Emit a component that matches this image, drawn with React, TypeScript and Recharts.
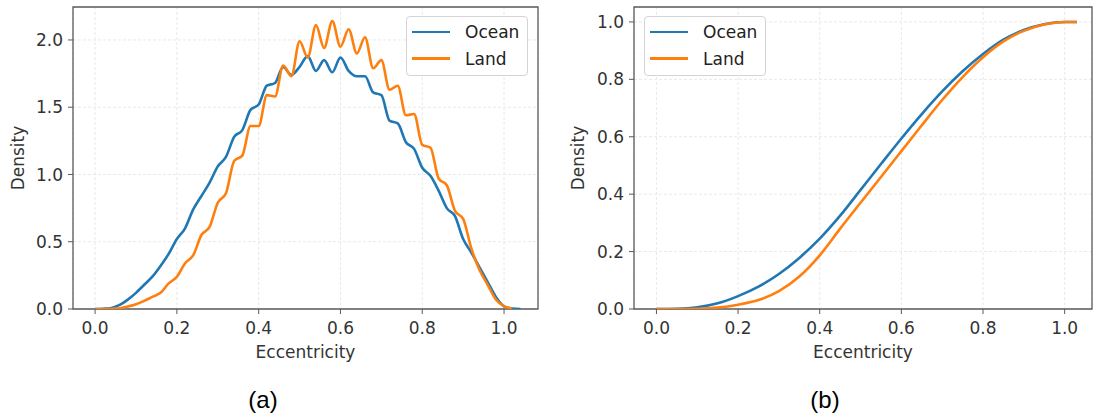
import { LineChart, Line, XAxis, YAxis, CartesianGrid, Legend, ReferenceArea } from "recharts";

// kernel density estimate, sampled every 0.02
const densityX = [
    0, 0.02, 0.04, 0.06, 0.08, 0.1, 0.12, 0.14, 0.16, 0.18, 0.2, 0.22, 0.24, 0.26, 0.28, 0.3, 0.32, 0.34,
    0.36, 0.38, 0.4, 0.42, 0.44, 0.46, 0.48, 0.5, 0.52, 0.54, 0.56, 0.58, 0.6, 0.62, 0.64, 0.66, 0.68, 0.7,
    0.72, 0.74, 0.76, 0.78, 0.8, 0.82, 0.84, 0.86, 0.88, 0.9, 0.92, 0.94, 0.96, 0.98, 1.0, 1.02, 1.04,
];
const oceanDensity = [
    0, 0.002, 0.008, 0.03, 0.07, 0.12, 0.18, 0.24, 0.32, 0.41, 0.52, 0.6, 0.74, 0.84, 0.94, 1.06, 1.13, 1.28,
    1.33, 1.48, 1.52, 1.66, 1.68, 1.8, 1.74, 1.8, 1.88, 1.77, 1.85, 1.76, 1.87, 1.77, 1.73, 1.73, 1.61, 1.59,
    1.4, 1.38, 1.24, 1.19, 1.05, 0.99, 0.88, 0.75, 0.69, 0.52, 0.42, 0.31, 0.2, 0.09, 0.02, 0.003, 0,
];
const landDensity = [
    0, 0, 0.002, 0.006, 0.018, 0.035, 0.06, 0.09, 0.12, 0.19, 0.24, 0.34, 0.4, 0.55, 0.61, 0.79, 0.86, 1.1,
    1.14, 1.36, 1.36, 1.59, 1.58, 1.81, 1.73, 1.99, 1.87, 2.11, 1.94, 2.14, 1.95, 2.08, 1.9, 2.02, 1.79, 1.85,
    1.63, 1.66, 1.44, 1.45, 1.22, 1.2, 0.97, 0.92, 0.73, 0.67, 0.45, 0.29, 0.18, 0.07, 0.02, 0.004, null,
];

// cumulative
const cdfX = [0, 0.05, 0.1, 0.15, 0.2, 0.25, 0.3, 0.35, 0.4, 0.45, 0.5, 0.55, 0.6, 0.65, 0.7, 0.75, 0.8, 0.85, 0.9, 0.95, 1.0, 1.03];
const oceanCdf = [0, 0.001, 0.006, 0.02, 0.045, 0.078, 0.122, 0.178, 0.245, 0.325, 0.415, 0.505, 0.594, 0.679, 0.758, 0.828, 0.888, 0.938, 0.972, 0.992, 1.0, 1.0];
const landCdf = [0, 0, 0.001, 0.005, 0.015, 0.031, 0.062, 0.113, 0.187, 0.28, 0.37, 0.46, 0.55, 0.64, 0.728, 0.808, 0.877, 0.932, 0.969, 0.991, 1.0, 1.0];

const eccTicks = [0, 0.2, 0.4, 0.6, 0.8, 1.0];
const densityTicks = [0, 0.5, 1.0, 1.5, 2.0];
const cdfTicks = [0, 0.2, 0.4, 0.6, 0.8, 1.0];
const seriesNames = ["Ocean", "Land"];

const OCEAN = "#1f77b4";
const LAND = "#ff7f0e";
const FONT = "'DejaVu Sans', sans-serif";
const TEXT = "#333";
const SPINE = "#5a5a5a";

const densityData = densityX.map((x, i) => ({ x, ocean: oceanDensity[i], land: landDensity[i] }));
const cdfData = cdfX.map((x, i) => ({ x, ocean: oceanCdf[i], land: landCdf[i] }));

function LegendBox({ payload }: { payload?: any[] }) {
    const items = [...(payload || [])].sort((a, b) => seriesNames.indexOf(a.value) - seriesNames.indexOf(b.value));
    return (
        <div
            style={{
                width: 122,
                height: 60,
                boxSizing: "border-box",
                border: "1px solid #d4d4d4",
                borderRadius: 4,
                background: "rgba(255,255,255,0.85)",
                position: "relative",
                fontFamily: FONT,
            }}
        >
            {items.map((item, i) => (
                <div
                    key={item.value}
                    style={{ position: "absolute", left: 5, top: 3 + i * 26.6, height: 24, display: "flex", alignItems: "center" }}
                >
                    <span style={{ display: "inline-block", width: 38, height: 2.6, background: item.color }} />
                    <span style={{ marginLeft: 15, fontSize: 17, color: "#222", lineHeight: "24px" }}>{item.value}</span>
                </div>
            ))}
        </div>
    );
}

interface PanelProps {
    data: { x: number; ocean: number | null; land: number | null }[];
    width: number;
    axisWidth: number;
    marginRight: number;
    xDomain: [number, number];
    yDomain: [number, number];
    yTicks: number[];
    legendLeft: number;
    labelOffset: number;
}

function Panel({ data, width, axisWidth, marginRight, xDomain, yDomain, yTicks, legendLeft, labelOffset }: PanelProps) {
    const tickStyle = { fontSize: 17, fill: TEXT, fontFamily: FONT };
    return (
        <LineChart width={width} height={365} data={data} margin={{ top: 7, right: marginRight, bottom: 0, left: 0 }}>
            <CartesianGrid stroke="#e9e9e9" strokeDasharray="3 2" />
            <XAxis
                dataKey="x"
                type="number"
                domain={xDomain}
                ticks={eccTicks}
                allowDataOverflow
                tickFormatter={(v: number) => v.toFixed(1)}
                axisLine={false}
                tickLine={{ stroke: SPINE }}
                tickSize={5}
                tickMargin={8}
                height={56}
                tick={tickStyle}
                label={{ value: "Eccentricity", position: "insideBottom", offset: 7, fill: TEXT, fontSize: 17, fontFamily: FONT }}
            />
            <YAxis
                type="number"
                domain={yDomain}
                ticks={yTicks}
                allowDataOverflow
                tickFormatter={(v: number) => v.toFixed(1)}
                axisLine={false}
                tickLine={{ stroke: SPINE }}
                tickSize={5}
                tickMargin={5}
                width={axisWidth}
                tick={tickStyle}
                label={{
                    value: "Density",
                    angle: -90,
                    position: "insideLeft",
                    offset: labelOffset,
                    fill: TEXT,
                    fontSize: 17,
                    fontFamily: FONT,
                    style: { textAnchor: "middle" },
                }}
            />
            <Line type="monotone" dataKey="ocean" name="Ocean" stroke={OCEAN} strokeWidth={2.6} dot={false} isAnimationActive={false} />
            <Line type="monotone" dataKey="land" name="Land" stroke={LAND} strokeWidth={2.6} dot={false} isAnimationActive={false} />
            <ReferenceArea
                x1={xDomain[0]}
                x2={xDomain[1]}
                y1={yDomain[0]}
                y2={yDomain[1]}
                fill="none"
                stroke={SPINE}
                strokeWidth={1.3}
                ifOverflow="visible"
            />
            <Legend
                layout="vertical"
                align="center"
                verticalAlign="middle"
                wrapperStyle={{ left: legendLeft, top: 16, width: 122 }}
                content={(props: any) => <LegendBox payload={props.payload} />}
            />
        </LineChart>
    );
}

export default function App() {
    return (
        <div style={{ position: "absolute", left: 0, top: 0, width: 1094, height: 418, background: "#fff", fontFamily: FONT }}>
            <div style={{ position: "absolute", left: 0, top: 0 }}>
                <Panel
                    data={densityData}
                    width={545}
                    axisWidth={73}
                    marginRight={7}
                    xDomain={[-0.054, 1.083]}
                    yDomain={[0, 2.245]}
                    yTicks={densityTicks}
                    legendLeft={406}
                    labelOffset={18}
                />
            </div>
            <div style={{ position: "absolute", left: 545, top: 0 }}>
                <Panel
                    data={cdfData}
                    width={549}
                    axisWidth={89}
                    marginRight={2}
                    xDomain={[-0.055, 1.067]}
                    yDomain={[0, 1.052]}
                    yTicks={cdfTicks}
                    legendLeft={99}
                    labelOffset={33}
                />
            </div>
            <div
                style={{
                    position: "absolute",
                    left: 213,
                    width: 100,
                    top: 386,
                    textAlign: "center",
                    fontFamily: "'Liberation Sans', Arial, sans-serif",
                    fontSize: 24,
                    color: "#000",
                }}
            >
                (a)
            </div>
            <div
                style={{
                    position: "absolute",
                    left: 775,
                    width: 100,
                    top: 386,
                    textAlign: "center",
                    fontFamily: "'Liberation Sans', Arial, sans-serif",
                    fontSize: 24,
                    color: "#000",
                }}
            >
                (b)
            </div>
        </div>
    );
}
